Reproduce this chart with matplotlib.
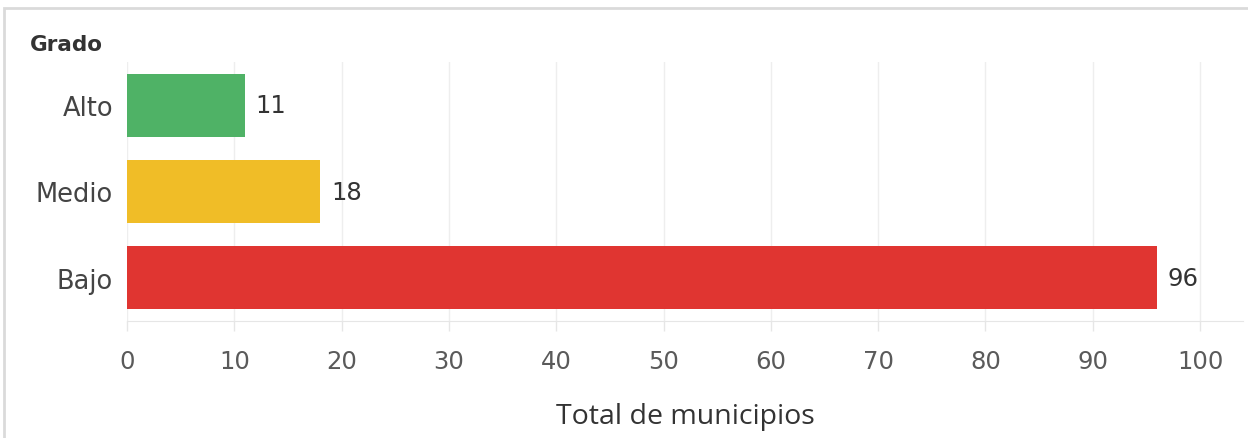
import matplotlib.pyplot as plt
from matplotlib.patches import Rectangle

# data
grados = ['Alto', 'Medio', 'Bajo']
totales = [11, 18, 96]
colores = ['#4fb266', '#f0bd27', '#e03531']
x_ticks = [0, 10, 20, 30, 40, 50, 60, 70, 80, 90, 100]

plt.rcParams['font.family'] = ['DejaVu Sans']

fig = plt.figure(figsize=(12.48, 4.39), dpi=100)
ax = fig.add_axes([127 / 1248, 1 - 322 / 439, 1116 / 1248, 259 / 439])

pos = list(range(len(grados)))
ax.barh(pos, totales, height=0.73, color=colores)
for p, v in zip(pos, totales):
    ax.text(v + 1.0, p, str(v), va='center', ha='left', fontsize=17.5, color='#333333')

ax.set_ylim(2.5, -0.5)
ax.set_xlim(0, 104)
ax.set_yticks(pos)
ax.set_yticklabels(grados)
ax.set_xticks(x_ticks)

ax.tick_params(axis='y', length=0, labelsize=18.5, labelcolor='#444444', pad=10)
ax.tick_params(axis='x', length=7.2, width=1, color='#e6e6e6', labelsize=17.5,
               labelcolor='#5a5a5a', pad=13)
ax.grid(axis='x', color='#eeeeee', linewidth=1)
ax.set_axisbelow(True)
for s in ['top', 'right', 'left']:
    ax.spines[s].set_visible(False)
ax.spines['bottom'].set_color('#e6e6e6')

ax.set_xlabel('Total de municipios', fontsize=20.5, color='#333333', labelpad=21,
              family=['Open Sans', 'DejaVu Sans'])
fig.text(30 / 1248, 1 - 45 / 439, 'Grado', fontsize=15.5, fontweight='bold',
         color='#333333', va='center', ha='left')

# outer frame
fig.patches.append(Rectangle((4 / 1248, -0.1), 1.1, 1 - 9 / 439 + 0.1,
                             transform=fig.transFigure, fill=False,
                             edgecolor='#dadada', linewidth=2))

fig.savefig('out.png', dpi=100)
